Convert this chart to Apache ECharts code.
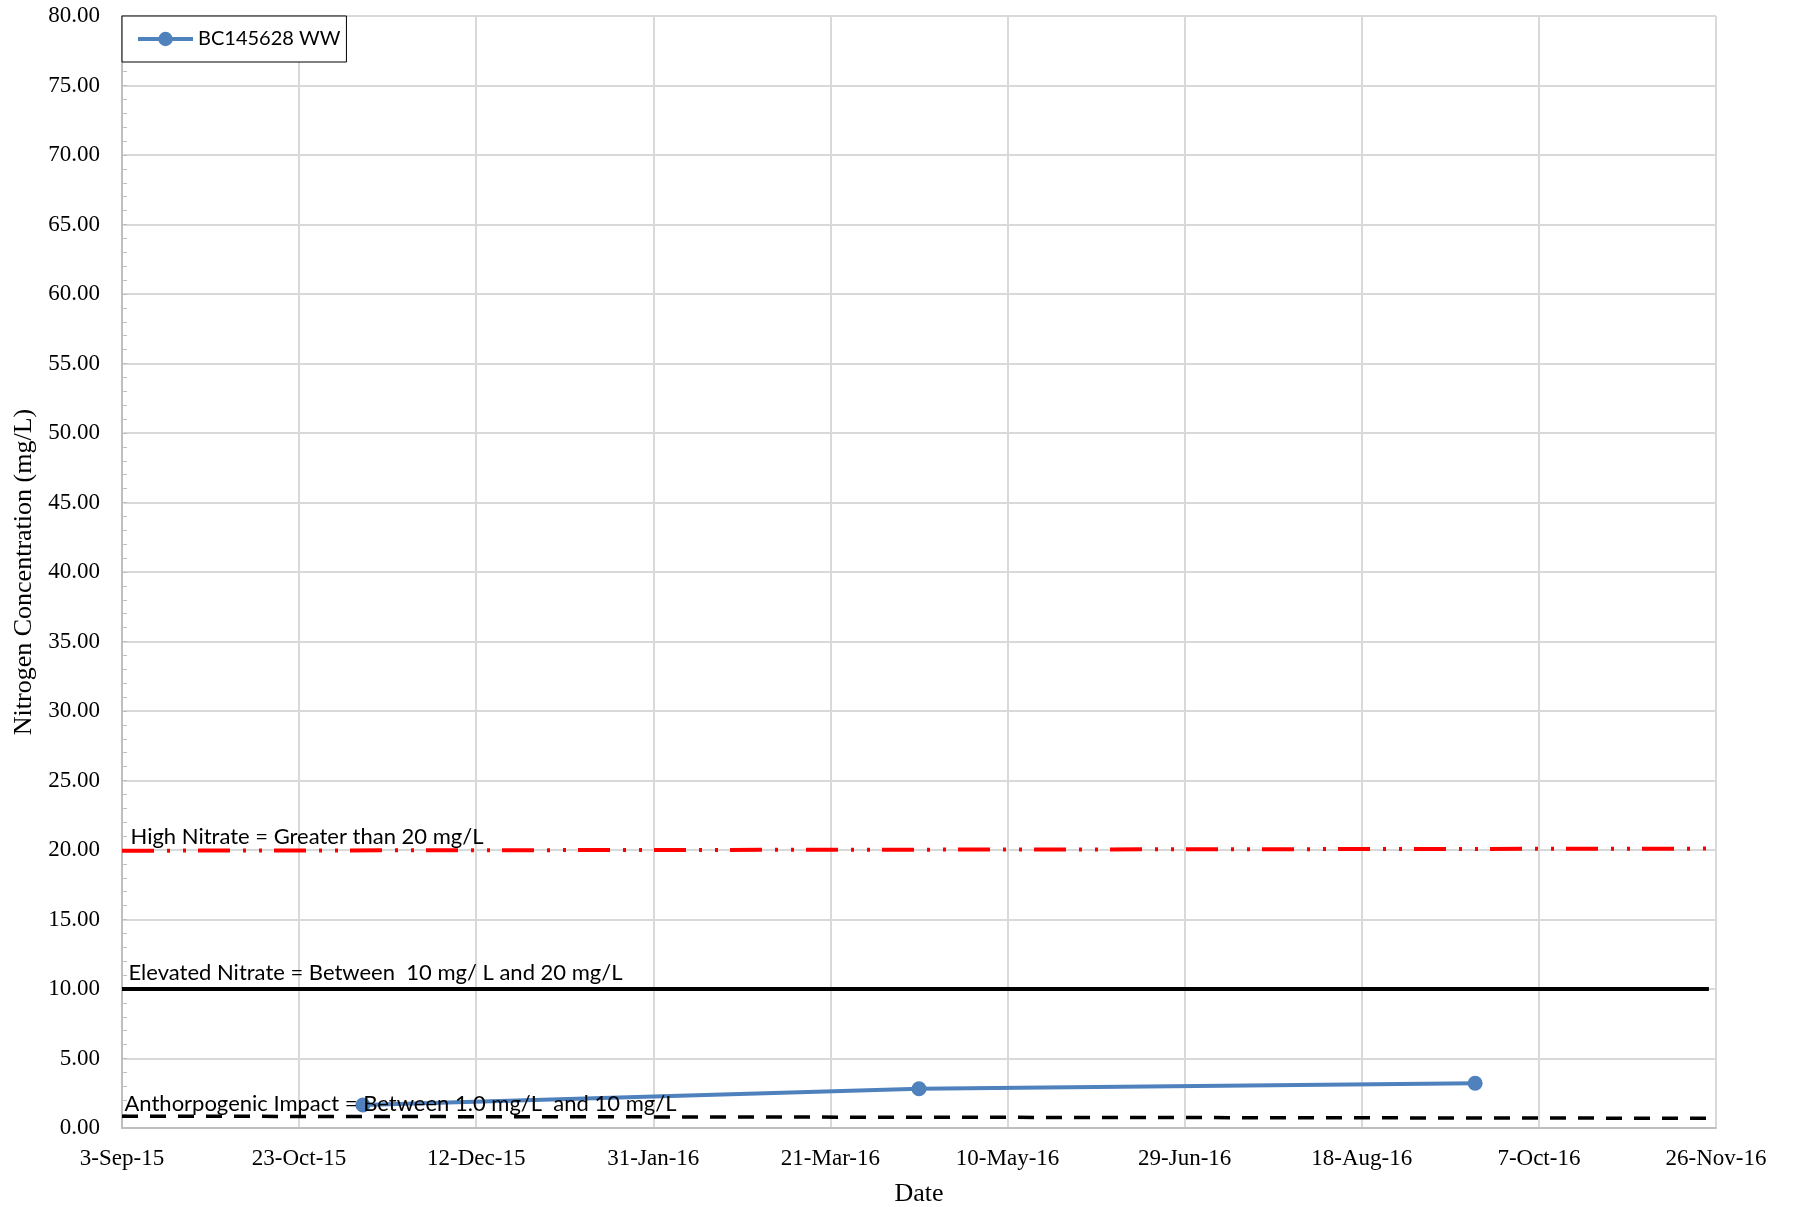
<!DOCTYPE html>
<html>
<head>
<meta charset="utf-8">
<script src="https://cdn.jsdelivr.net/npm/echarts@6/dist/echarts.min.js"></script>
<style>
html,body{margin:0;padding:0;background:#fff;}
#chart{width:1793px;height:1207px;}
</style>
</head>
<body>
<div id="chart"></div>
<script>
// ---- data ----
var seriesName = 'BC145628 WW';
var sampleDates = ['2015-11-10', '2016-04-15', '2016-09-19'];
var sampleValues = [1.65, 2.82, 3.22];

var thresholdDates = ['2015-09-03', '2016-11-24'];
var highValues = [19.95, 20.1];
var elevatedValues = [10, 10];
var anthroValues = [0.85, 0.70];

var highLabel = 'High Nitrate = Greater than 20 mg/L';
var elevatedLabel = 'Elevated Nitrate = Between  10 mg/ L and 20 mg/L';
var anthroLabel = 'Anthorpogenic Impact = Between 1.0 mg/L  and 10 mg/L';

var xTickLabels = ['3-Sep-15', '23-Oct-15', '12-Dec-15', '31-Jan-16', '21-Mar-16',
  '10-May-16', '29-Jun-16', '18-Aug-16', '7-Oct-16', '26-Nov-16'];
var xMinDate = '2015-09-03';
var xIntervalDays = 50;
var yMin = 0, yMax = 80, yInterval = 5;

// ---- helpers ----
function serial(s) {
  var p = s.split('-');
  return Math.round((Date.UTC(+p[0], +p[1] - 1, +p[2]) - Date.UTC(1899, 11, 30)) / 86400000);
}
var xMin = serial(xMinDate);
var xMax = xMin + xIntervalDays * (xTickLabels.length - 1);

function pairs(dates, vals) {
  return dates.map(function (d, i) { return [serial(d), vals[i]]; });
}
function labelled(dates, vals, text, dx, dy) {
  var d = pairs(dates, vals);
  d[0] = {
    value: d[0],
    label: {
      show: true, formatter: text, position: [dx, dy],
      align: 'left', verticalAlign: 'bottom',
      fontFamily: 'Lato', fontSize: 22, color: '#000'
    }
  };
  return d;
}

var serifFont = '"Liberation Serif", "Times New Roman", serif';

var chart = echarts.init(document.getElementById('chart'), null, {renderer: 'canvas'});
chart.setOption({
  animation: false,
  backgroundColor: '#fff',
  grid: {left: 122, right: 77, top: 16, bottom: 79, containLabel: false, outerBoundsMode: 'none'},
  legend: {
    data: [seriesName],
    left: 122, top: 16,
    orient: 'horizontal',
    padding: [13, 6, 13, 14],
    backgroundColor: '#fff',
    borderColor: '#000', borderWidth: 1,
    itemWidth: 55, itemHeight: 18,
    lineStyle: {width: 4},
    textStyle: {fontFamily: 'Lato', fontSize: 20, color: '#000'}
  },
  xAxis: {
    type: 'value',
    min: xMin, max: xMax, interval: xIntervalDays,
    name: 'Date', nameLocation: 'middle', nameGap: 53,
    nameTextStyle: {fontFamily: serifFont, fontSize: 26, color: '#000'},
    axisLine: {show: true, lineStyle: {color: '#bfbfbf', width: 2}},
    axisTick: {show: false},
    axisLabel: {
      fontFamily: serifFont, fontSize: 23, color: '#000', margin: 19,
      formatter: function (v) {
        var i = Math.round((v - xMin) / xIntervalDays);
        return xTickLabels[i] || '';
      }
    },
    splitLine: {show: true, lineStyle: {color: '#d9d9d9', width: 2}}
  },
  yAxis: {
    type: 'value',
    min: yMin, max: yMax, interval: yInterval,
    name: 'Nitrogen Concentration (mg/L)', nameLocation: 'middle', nameGap: 84,
    nameTextStyle: {fontFamily: serifFont, fontSize: 26, color: '#000'},
    axisLine: {show: true, lineStyle: {color: '#bfbfbf', width: 2}},
    axisTick: {show: true, inside: true, length: 5, lineStyle: {color: '#bfbfbf', width: 1}},
    minorTick: {show: true, splitNumber: 5, length: 5, lineStyle: {color: '#bfbfbf', width: 1}},
    axisLabel: {
      fontFamily: serifFont, fontSize: 23, color: '#000', margin: 22,
      formatter: function (v) { return v.toFixed(2); }
    },
    splitLine: {show: true, lineStyle: {color: '#d9d9d9', width: 2}}
  },
  series: [
    {
      name: 'High', type: 'line',
      data: labelled(thresholdDates, highValues, highLabel, 9, -2),
      symbol: 'circle', symbolSize: 1, itemStyle: {color: 'rgba(0,0,0,0)'},
      lineStyle: {color: '#ff0000', width: 4, type: [32, 13, 3, 13, 3, 12], cap: 'butt'},
      z: 3, silent: true
    },
    {
      name: 'Elevated', type: 'line',
      data: labelled(thresholdDates, elevatedValues, elevatedLabel, 7, -5),
      symbol: 'circle', symbolSize: 1, itemStyle: {color: 'rgba(0,0,0,0)'},
      lineStyle: {color: '#000', width: 4, type: 'solid'},
      z: 3, silent: true
    },
    {
      name: 'Anthro', type: 'line',
      data: labelled(thresholdDates, anthroValues, anthroLabel, 3, -1),
      symbol: 'circle', symbolSize: 1, itemStyle: {color: 'rgba(0,0,0,0)'},
      lineStyle: {color: '#000', width: 3.5, type: [16, 12], cap: 'butt'},
      z: 3, silent: true
    },
    {
      name: seriesName, type: 'line',
      data: pairs(sampleDates, sampleValues),
      symbol: 'circle', symbolSize: 15, showSymbol: true,
      itemStyle: {color: '#4f81bd'},
      lineStyle: {color: '#4f81bd', width: 4},
      z: 2
    }
  ]
});
</script>
</body>
</html>
